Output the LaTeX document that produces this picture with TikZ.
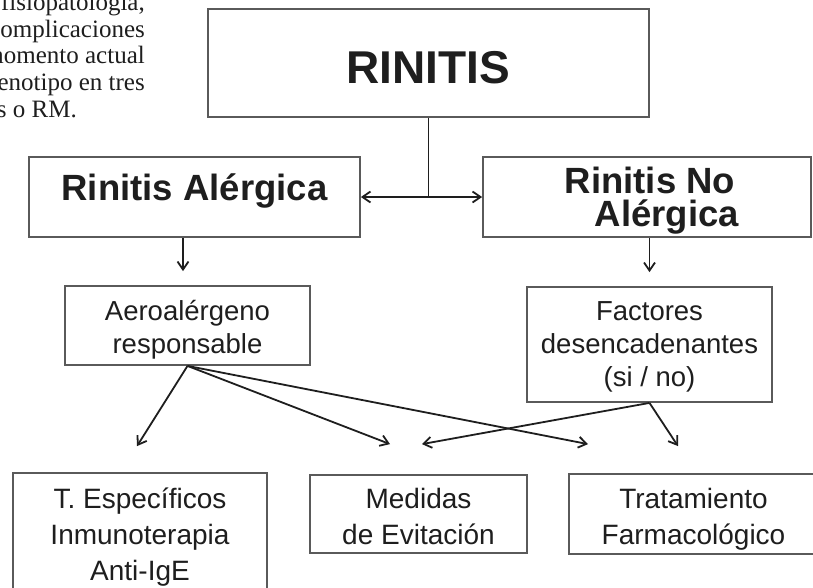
\documentclass[tikz,border=0pt]{standalone}
\usepackage{fontspec}
\setmainfont{Liberation Sans}
\newfontfamily\parfont{Liberation Serif}
\usepackage{tikz}
\usetikzlibrary{arrows.meta,calc}
\definecolor{ink} {RGB} {30, 30, 30}
\definecolor{boxline} {RGB} {90, 90, 90}
\newcommand{\toppad}[1]{\rule{0pt}{#1}}
\tikzstyle{rinitis}=[
  x=1pt, y=-1pt, >={Straight Barb[length=8pt,width=11pt]}
]
\tikzstyle{rbox}=[
  draw=boxline, line width=1.8pt, inner sep=0pt, text=ink
]
\tikzstyle{rtitle}=[
  rbox, font=\fontsize{46}{50}\selectfont\bfseries
]
\tikzstyle{rhead}=[
  rbox, font=\fontsize{36.5}{33}\selectfont\bfseries
]
\tikzstyle{rmid}=[
  rbox, align=center, font=\fontsize{27.5}{33}\selectfont
]
\tikzstyle{rleaf}=[
  rbox, align=center, font=\fontsize{28}{36}\selectfont
]
\tikzstyle{redge}=[
  line width=1.8pt, draw=ink
]
\tikzstyle{rpar}=[
  anchor=base east, inner sep=0pt, text=ink, font=\parfont\fontsize{25}{27}\selectfont
]

\begin{document}
\begin{tikzpicture}[rinitis]
\useasboundingbox (0,0) rectangle (813,587);
\clip (0,0) rectangle (813,587);
\fill[white] (0,0) rectangle (813,587);

% paragraph cut by the left edge
\node (par1) [rpar] at (145,10) {fisiopatología,};
\node (par2) [rpar] at (145,37) {complicaciones};
\node (par3) [rpar] at (145,63.5) {momento actual};
\node (par4) [rpar] at (145,90) {fenotipo en tres};
\node (par5) [rpar] at (77,117) {s o RM.};

\node (rin) [rtitle, minimum width=441pt, minimum height=108pt, text height=40pt, text depth=0pt] at (428.5,63) {RINITIS};

\node (ra) [rhead, minimum width=331pt, minimum height=80pt, text height=27pt, text depth=21pt] at (194.5,197) {Rinitis Alérgica};
\node (rna) [rhead, align=center, minimum width=328pt, minimum height=80pt] at (647,197)
  {\toppad{33pt}\hspace*{6pt}Rinitis No\\\hspace*{40pt}Alérgica};

\node (aero) [rmid, minimum width=245pt, minimum height=79pt] at (187.5,325.5) {\toppad{28pt}Aeroalérgeno\\responsable};
\node (fac) [rmid, minimum width=245pt, minimum height=115pt] at (649.5,344.5) {\toppad{23pt}Factores\\desencadenantes\\(si / no)};

\node (tesp) [rleaf, minimum width=254pt, minimum height=126pt] at (140,536) {\toppad{23pt}T. Específicos\\Inmunoterapia\\Anti-IgE};
\node (med) [rleaf, minimum width=217pt, minimum height=78pt] at (418.5,514) {\toppad{25pt}Medidas\\de Evitación};
\node (trat) [rleaf, minimum width=249pt, minimum height=80pt] at (693.5,514) {\toppad{30pt}Tratamiento\\Farmacológico};

\coordinate (split) at (rin.south |- ra.east);
\coordinate (raDown) at ($(aero.north) + (-4.5, -14)$);
\coordinate (rnaDown) at ($(fac.north) + (0, -14)$);
\coordinate (toTesp) at ($(tesp.north) + (-3, -26)$);
\coordinate (aeroToMed) at ($(med.north) + (-28.5, -30)$);
\coordinate (facToMed) at ($(med.north) + (3.5, -30)$);
\coordinate (aeroToTrat) at ($(trat.north) + (-105.5, -29)$);
\coordinate (facToTrat) at ($(trat.north) + (-15.5, -27)$);

\draw [redge] (rin.south) -- (split);
\draw [redge, <->] (ra.east) -- (rna.west);
\draw [redge, ->] (raDown |- ra.south) -- (raDown);
\draw [redge, ->] (fac.north |- rna.south) -- (rnaDown);
\draw [redge, ->] (aero.south) -- (toTesp);
\draw [redge, ->] (aero.south) -- (aeroToMed);
\draw [redge, ->] (aero.south) -- (aeroToTrat);
\draw [redge, ->] (fac.south) -- (facToMed);
\draw [redge, ->] (fac.south) -- (facToTrat);
\end{tikzpicture}
\end{document}
